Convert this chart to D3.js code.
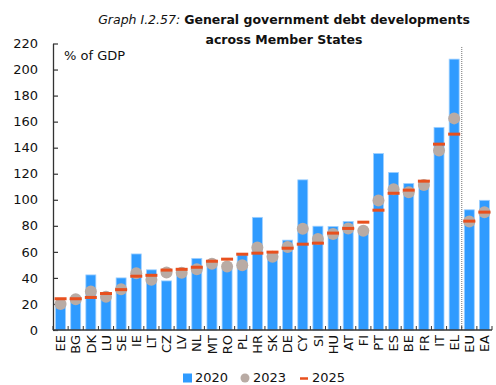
<!DOCTYPE html>
<html>
<head>
<meta charset="utf-8">
<script src="https://cdn.jsdelivr.net/npm/d3@7"></script>
<style>
  html, body { margin: 0; padding: 0; background: #fff; }
  svg { display: block; font-family: "DejaVu Sans", sans-serif; }
</style>
</head>
<body>
<svg id="chart" width="496" height="385"></svg>
<script>
const categories = ["EE","BG","DK","LU","SE","IE","LT","CZ","LV","NL","MT","RO","PL","HR","SK","DE","CY","SI","HU","AT","FI","PT","ES","BE","FR","IT","EL","EU","EA"];
const v2020 = [19, 24.5, 42.3, 24.6, 40, 58.4, 46.2, 37.7, 43, 55, 53, 47, 57.7, 86.5, 59, 69, 115.3, 79.7, 79.5, 83.3, 75, 135.5, 121, 112.5, 114.8, 155.6, 208, 92.3, 99.6];
const v2023 = [20, 23.6, 29.5, 25.6, 31.3, 43.6, 38.5, 44.2, 44, 46.6, 50.8, 48.7, 49.7, 63.3, 56.2, 63.8, 77.7, 69.8, 73.8, 78, 76.2, 99.4, 108, 105.8, 111.3, 137.9, 162.5, 83.3, 90.5];
const v2025 = [24, 24, 25, 28, 31, 41.3, 42, 46, 46.6, 48.2, 52.8, 54.4, 58.2, 59, 59.8, 62.8, 65.9, 66.7, 74.4, 78, 82.8, 92, 105, 107.4, 114.3, 142.7, 150.4, 83.6, 90.5];
const yTicks = [0, 20, 40, 60, 80, 100, 120, 140, 160, 180, 200, 220];
const seriesNames = ["2020", "2023", "2025"];
const separatorAfter = "EL";

const colors = { bar: "#2f9bff", barEdge: "#9fd0ff", dot: "#b9aba4", dash: "#e8501e", axis: "#333" };

const svg = d3.select("#chart");
const x = d3.scaleBand().domain(categories).range([53, 492]).paddingInner(0.34).paddingOuter(0.17);
const y = d3.scaleLinear().domain([0, 220]).range([330, 43.5]);

// Title
const title = svg.append("text").attr("x", 284).attr("y", 24).attr("text-anchor", "middle")
  .attr("font-size", 12.5).attr("fill", "#111");
title.append("tspan").attr("font-style", "italic").text("Graph I.2.57: ");
title.append("tspan").attr("font-weight", "bold").text("General government debt developments");
svg.append("text").attr("x", 284).attr("y", 44).attr("text-anchor", "middle")
  .attr("font-size", 12.5).attr("font-weight", "bold").attr("fill", "#111").text("across Member States");

// Y axis
const yAxis = d3.axisLeft(y).tickValues(yTicks).tickSizeInner(-5).tickSizeOuter(0).tickPadding(15);
const gy = svg.append("g").attr("transform", "translate(53,0)").call(yAxis);
gy.select(".domain").attr("stroke", colors.axis).attr("stroke-width", 1.3);
gy.selectAll(".tick line").attr("stroke", colors.axis).attr("stroke-width", 1.2);
gy.selectAll(".tick text").attr("font-size", 13).attr("font-family", "DejaVu Sans").attr("fill", "#111");

svg.append("text").attr("x", 64).attr("y", 60).attr("font-size", 13).attr("fill", "#111").text("% of GDP");

// Separator
const sepX = x(separatorAfter) - x.step() * x.paddingOuter() + x.step();
svg.append("line").attr("x1", sepX).attr("x2", sepX).attr("y1", 47).attr("y2", y(0))
  .attr("stroke", "#888").attr("stroke-width", 1.2).attr("stroke-dasharray", "1,1");

// Bars
svg.append("g").selectAll("rect").data(categories).join("rect")
  .attr("x", d => x(d)).attr("width", x.bandwidth())
  .attr("y", (d, i) => y(v2020[i])).attr("height", (d, i) => y(0) - y(v2020[i]))
  .attr("fill", colors.bar).attr("stroke", colors.barEdge).attr("stroke-width", 0.8);

// Dots
svg.append("g").selectAll("circle").data(categories).join("circle")
  .attr("cx", d => x(d) + x.bandwidth() / 2).attr("cy", (d, i) => y(v2023[i])).attr("r", 6)
  .attr("fill", colors.dot);

// Dashes
svg.append("g").selectAll("line").data(categories).join("line")
  .attr("x1", d => x(d) + x.bandwidth() / 2 - 6).attr("x2", d => x(d) + x.bandwidth() / 2 + 6)
  .attr("y1", (d, i) => y(v2025[i])).attr("y2", (d, i) => y(v2025[i]))
  .attr("stroke", colors.dash).attr("stroke-width", 3);

// X axis
const x0 = x.range()[0], x1 = x.range()[1];
svg.append("line").attr("x1", x0).attr("x2", x1).attr("y1", y(0)).attr("y2", y(0))
  .attr("stroke", colors.axis).attr("stroke-width", 1.5);
const bounds = d3.range(categories.length + 1).map(i => x0 + i * x.step());
svg.append("g").selectAll("line").data(bounds).join("line")
  .attr("x1", d => d).attr("x2", d => d).attr("y1", y(0)).attr("y2", y(0) - 4)
  .attr("stroke", colors.axis).attr("stroke-width", 1);
svg.append("g").selectAll("text").data(categories).join("text")
  .attr("transform", d => `translate(${x(d) + x.bandwidth() / 2},335) rotate(-90)`)
  .attr("text-anchor", "end").attr("dy", "0.36em").attr("font-size", 13).attr("fill", "#111")
  .text(d => d);

// Legend
const lg = svg.append("g");
lg.append("rect").attr("x", 183).attr("y", 373.5).attr("width", 9).attr("height", 9).attr("fill", colors.bar);
lg.append("text").attr("x", 195).attr("y", 382).attr("font-size", 13).attr("fill", "#111").text(seriesNames[0]);
lg.append("circle").attr("cx", 245).attr("cy", 378).attr("r", 4.5).attr("fill", colors.dot);
lg.append("text").attr("x", 253).attr("y", 382).attr("font-size", 13).attr("fill", "#111").text(seriesNames[1]);
lg.append("line").attr("x1", 300).attr("x2", 308).attr("y1", 378.5).attr("y2", 378.5).attr("stroke", colors.dash).attr("stroke-width", 2.5);
lg.append("text").attr("x", 312).attr("y", 382).attr("font-size", 13).attr("fill", "#111").text(seriesNames[2]);
</script>
</body>
</html>
